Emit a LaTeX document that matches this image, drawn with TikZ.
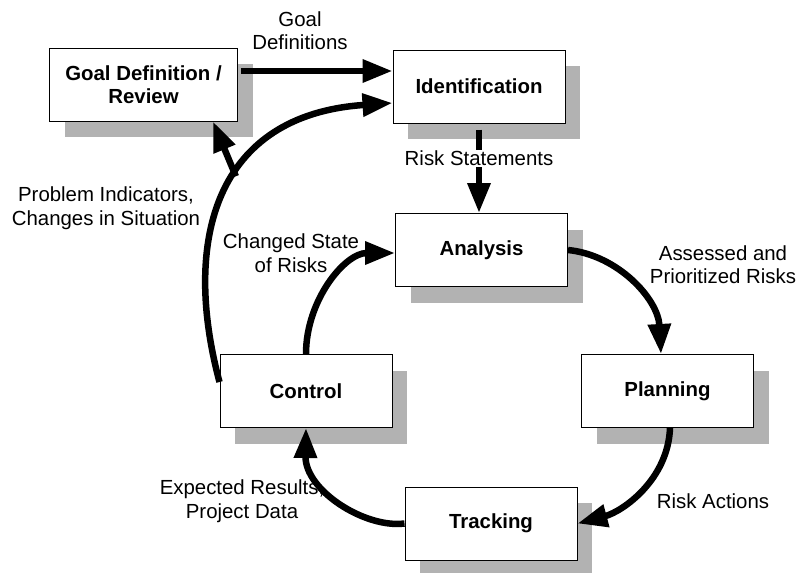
\documentclass[tikz,border=0pt]{standalone}
\usepackage{fontspec}
\setmainfont{Liberation Sans}
\usetikzlibrary{arrows.meta,shadows}

\begin{document}
\begin{tikzpicture}[x=1pt,y=-1pt,
  box/.style={draw, line width=1pt, fill=white, minimum width=172pt, minimum height=73pt,
    align=center, font=\fontsize{20.4}{23.5}\selectfont\bfseries,
    drop shadow={shadow xshift=15pt, shadow yshift=-16pt, fill=black!30, opacity=1}},
  lbl/.style={align=center, inner sep=1pt, font=\fontsize{20.4}{23.5}\selectfont},
  flow/.style={line width=6.5pt, -{Triangle[length=30pt,width=22pt]}}]
\useasboundingbox (0,0) rectangle (798,573);

% steps of the cycle
\node [box, minimum width=188pt] (goal) at (143.5,84.5) {Goal Definition /\\Review};
\node [box] (ident) at (479,86.5) {Identification};
\node [box] (analysis) at (481.5,250) {Analysis};
\node [box] (plan) at (667.5,391) {Planning};
\node [box] (track) at (491,523.5) {Tracking};
\node [box] (ctrl) at (306,391) {Control};

% flows between the steps
\draw [flow, shorten <=3pt] ([yshift=13.5pt]goal.east) -- ([yshift=13.5pt]goal.east -| ident.west);
\draw [flow, shorten <=6pt] (ident.south) -- (ident.south |- analysis.north)
  node [lbl, fill=white, pos=0.39] (riskst) {Risk Statements};
\draw [flow] (analysis.east) .. controls +(50,5) and +(-3,-55) .. ([xshift=-6.5pt]plan.north);
\draw [flow] ([xshift=2.5pt]plan.south) .. controls +(-2,52) and +(45,-12) .. (track.east);
\draw [flow] (track.west) .. controls +(-40,5) and +(-1,62) .. (ctrl.south);
\draw [flow] (ctrl.north) .. controls +(0,-54) and +(-50,0) .. ([yshift=-3pt]analysis.west);

% feedback from control
\draw [flow] ([yshift=9pt]ctrl.west) .. controls +(-38,-142) and +(-177,12) .. ([yshift=-16.5pt]ident.west)
  coordinate [pos=0.56] (fork);
\draw [flow] (fork) -- ([xshift=-25pt]goal.south east);

% labels
\node [lbl] (goallbl) at (300,30.5) {Goal\\Definitions};
\node [lbl] (problbl) at (106,208) {Problem Indicators,\\Changes in Situation};
\node [lbl] (assesslbl) at (723,264.5) {Assessed and\\Prioritized Risks};
\node [lbl] (actlbl) at (713,501.5) {Risk Actions};
\node [lbl] (explbl) at (242,501) {Expected Results,\\Project Data};
\node [lbl] (chglbl) at (291,253) {Changed State\\of Risks};
\end{tikzpicture}
\end{document}
